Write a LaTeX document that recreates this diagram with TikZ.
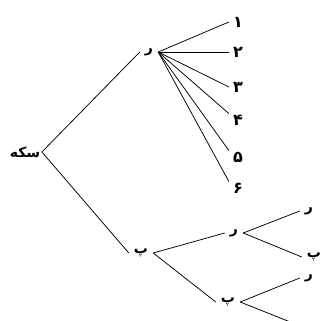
\documentclass[tikz,border=0pt]{standalone}
\usepackage{fontspec}
\usetikzlibrary{positioning}
\TeXXeTstate=1
\newfontfamily\arabicfont[Script=Arabic]{DejaVu Sans}
\tikzset{
  treelabel/.style={font=\arabicfont\bfseries\fontsize{14}{16}\selectfont,inner xsep=5pt,inner ysep=1pt},
  rootlabel/.style={treelabel,inner xsep=1.5pt},
  digitlabel/.style={treelabel,font=\arabicfont\bfseries\fontsize{16}{18}\selectfont,inner xsep=4pt},
  branchline/.style={line width=0.75pt,draw=black}
}

\begin{document}
\begin{tikzpicture}[x=1pt,y=-1pt]
\useasboundingbox (0,0) rectangle (325,321);
% Root and first toss
\node[rootlabel] (coin) at (25,152) {\beginR سکه\endR};
\node[treelabel] (rU) at (149,52) {\beginR ر\endR};
\node[treelabel] (pL) at (141,253) {\beginR پ\endR};
\draw[branchline] (coin.east) -- (rU.west);
\draw[branchline] (coin.east) -- (pL.west);

% Die outcomes after ر
\foreach \n/\y/\d in {1/22/۱,2/52/۲,3/87/۳,4/120/۴,5/157/۵,6/188/۶}
  \node[digitlabel] (d\n) at (238,\y) {\d};
\foreach \n in {1,2,3}
  \draw[branchline] (rU.east) -- (d\n.west);
\foreach \n in {4,5,6}
  \draw[branchline] (rU.east) -- (d\n.north west);

% Second and third toss after پ
\node[treelabel] (rM) at (234,233) {\beginR ر\endR};
\node[treelabel] (pM) at (228,302) {\beginR پ\endR};
\draw[branchline] (pL.east) -- (rM.west);
\draw[branchline] (pL.east) -- (pM.west);
\node[treelabel] (rR1) at (309,211) {\beginR ر\endR};
\node[treelabel] (pR1) at (314,257) {\beginR پ\endR};
\node[treelabel] (rR2) at (309,278) {\beginR ر\endR};
\node[treelabel] (pR2) at (312,331) {\beginR پ\endR};
\draw[branchline] (rM.east) -- (rR1.west);
\draw[branchline] (rM.east) -- (pR1.west);
\draw[branchline] (pM.east) -- (rR2.west);
\draw[branchline] (pM.east) -- (pR2.north west);
\end{tikzpicture}
\end{document}
